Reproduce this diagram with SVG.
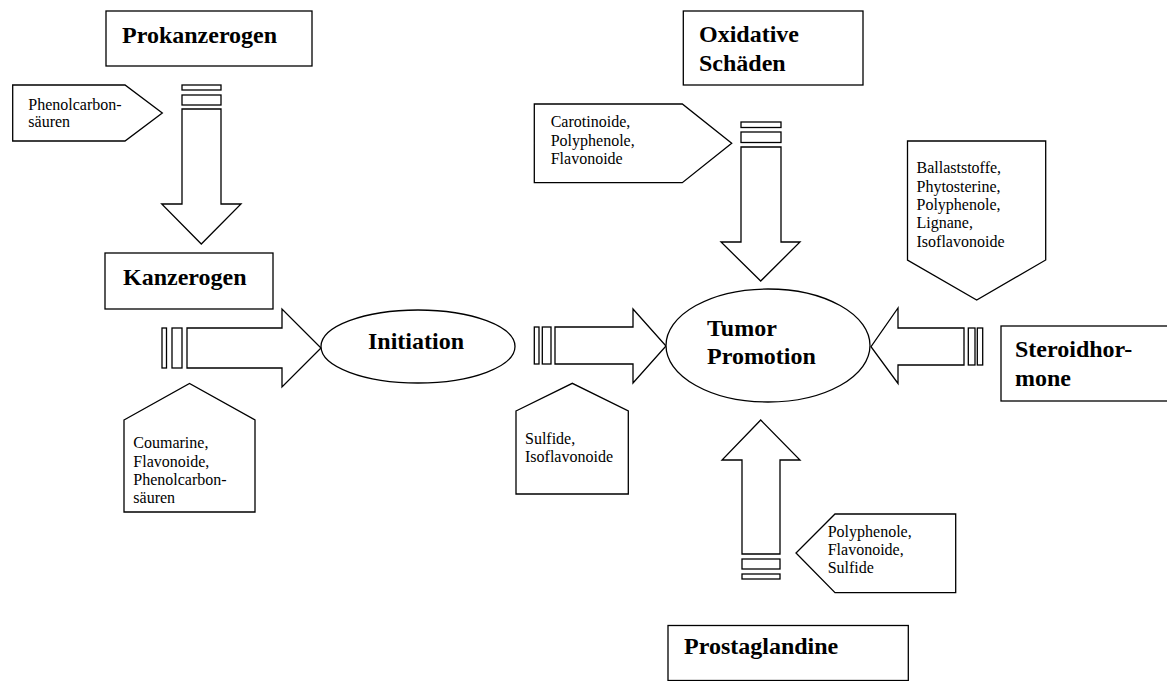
<svg xmlns="http://www.w3.org/2000/svg" width="1167" height="681" viewBox="0 0 1167 681">
<style>
.s{fill:#fff;stroke:#000;stroke-width:1.3;stroke-linejoin:miter}
.b{font-family:"Liberation Serif","Times New Roman",serif;font-weight:bold;font-size:24px;fill:#000}
.t{font-family:"Liberation Serif","Times New Roman",serif;font-size:16px;fill:#000}
</style>
<rect x="0" y="0" width="1167" height="681" fill="#fff"/>
<g id="connectors">
  <g id="arrow-prokanzerogen-kanzerogen">
    <rect class="s" x="182" y="85" width="39" height="5"/>
    <rect class="s" x="182" y="95" width="39" height="10"/>
    <polygon class="s" points="182,109 221,109 221,204 241,204 201.3,244 161.7,204 182,204"/>
  </g>
  <g id="arrow-oxidative-tumor">
    <rect class="s" x="741" y="122" width="40" height="5.5"/>
    <rect class="s" x="741" y="132" width="40" height="10.5"/>
    <polygon class="s" points="741,147 781,147 781,242 800,242 760.7,281 721,242 741,242"/>
  </g>
  <g id="arrow-kanzerogen-initiation">
    <rect class="s" x="162" y="328" width="4.5" height="40"/>
    <rect class="s" x="172" y="328" width="10" height="40"/>
    <polygon class="s" points="187,328 282,328 282,309 321,348 282,387 282,368 187,368"/>
  </g>
  <g id="arrow-initiation-tumor">
    <rect class="s" x="534.3" y="327" width="4.7" height="37"/>
    <rect class="s" x="542.3" y="327" width="8.7" height="37"/>
    <polygon class="s" points="555,327 633,327 633,309 666,346 633,383 633,364 555,364"/>
  </g>
  <g id="arrow-steroid-tumor">
    <rect class="s" x="968.3" y="328" width="6.7" height="37"/>
    <rect class="s" x="977.3" y="328" width="5.4" height="37"/>
    <polygon class="s" points="964,328 898,328 898,308 871,346.7 898,383.5 898,365 964,365"/>
  </g>
  <g id="arrow-prostaglandine-tumor">
    <rect class="s" x="742" y="559" width="38" height="10"/>
    <rect class="s" x="742" y="574" width="38" height="5"/>
    <polygon class="s" points="742,554 742,460 722,460 760.7,420 800,460 780,460 780,554"/>
  </g>
</g>
<g id="prokanzerogen">
  <rect class="s" x="106" y="11" width="206" height="55"/>
  <text class="b" x="122" y="43">Prokanzerogen</text>
</g>
<g id="kanzerogen">
  <rect class="s" x="105" y="253" width="168" height="56"/>
  <text class="b" x="123" y="285">Kanzerogen</text>
</g>
<g id="initiation">
  <ellipse class="s" cx="418" cy="346.5" rx="97" ry="36.5"/>
  <text class="b" x="368" y="349">Initiation</text>
</g>
<g id="tumor-promotion">
  <ellipse class="s" cx="768" cy="345.5" rx="102" ry="56.5"/>
  <text class="b" x="707" y="336">Tumor</text>
  <text class="b" x="707" y="364">Promotion</text>
</g>
<g id="oxidative-schaeden">
  <rect class="s" x="683.3" y="11" width="179.7" height="74"/>
  <text class="b" x="699" y="42">Oxidative</text>
  <text class="b" x="699" y="71">Schäden</text>
</g>
<g id="steroidhormone">
  <rect class="s" x="1001" y="326" width="175" height="75"/>
  <text class="b" x="1015" y="357">Steroidhor-</text>
  <text class="b" x="1015" y="386">mone</text>
</g>
<g id="prostaglandine">
  <rect class="s" x="668" y="625.5" width="240.3" height="55"/>
  <text class="b" x="684" y="653.5">Prostaglandine</text>
</g>
<g id="label-phenolcarbonsaeuren">
  <polygon class="s" points="12.7,85 125,85 162.3,113 125,141 12.7,141"/>
  <text class="t" x="28.3" y="109.7">Phenolcarbon-</text>
  <text class="t" x="28.3" y="127.3">säuren</text>
</g>
<g id="label-coumarine">
  <polygon class="s" points="124,420 189.5,383.5 255,420 255,512 124,512"/>
  <text class="t" x="133.3" y="448.3">Coumarine,</text>
  <text class="t" x="133.3" y="466.6">Flavonoide,</text>
  <text class="t" x="133.3" y="484.9">Phenolcarbon-</text>
  <text class="t" x="133.3" y="503.2">säuren</text>
</g>
<g id="label-carotinoide">
  <polygon class="s" points="534.3,104 682.3,104 731.7,143.3 682.3,182.7 534.3,182.7"/>
  <text class="t" x="550.7" y="127">Carotinoide,</text>
  <text class="t" x="550.7" y="145.5">Polyphenole,</text>
  <text class="t" x="550.7" y="164">Flavonoide</text>
</g>
<g id="label-sulfide">
  <polygon class="s" points="516,411 572.3,383.3 628.3,411 628.3,494 516,494"/>
  <text class="t" x="525" y="444">Sulfide,</text>
  <text class="t" x="525" y="462">Isoflavonoide</text>
</g>
<g id="label-ballaststoffe">
  <polygon class="s" points="907.5,141 1045.7,141 1045.7,260 976.7,300 907.5,260"/>
  <text class="t" x="916.5" y="173.3">Ballaststoffe,</text>
  <text class="t" x="916.5" y="191.6">Phytosterine,</text>
  <text class="t" x="916.5" y="209.9">Polyphenole,</text>
  <text class="t" x="916.5" y="228.2">Lignane,</text>
  <text class="t" x="916.5" y="246.5">Isoflavonoide</text>
</g>
<g id="label-polyphenole">
  <polygon class="s" points="835,514 955.7,514 955.7,592.7 835,592.7 796,553"/>
  <text class="t" x="827.7" y="536.7">Polyphenole,</text>
  <text class="t" x="827.7" y="555">Flavonoide,</text>
  <text class="t" x="827.7" y="573.3">Sulfide</text>
</g>
</svg>
